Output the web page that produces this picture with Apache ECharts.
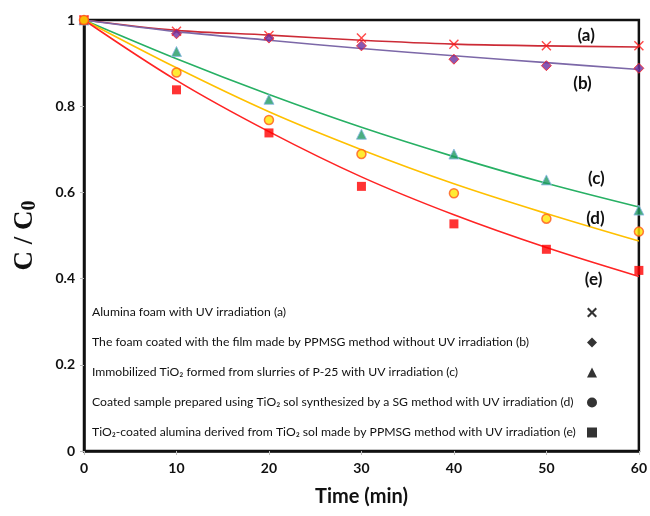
<!DOCTYPE html>
<html><head><meta charset="utf-8">
<script src="https://cdn.jsdelivr.net/npm/echarts@6/dist/echarts.min.js"></script>
<style>html,body{margin:0;padding:0;background:#fff}#c{width:650px;height:516px}</style>
</head><body><div id="c"></div>
<script>
const times = [0, 10, 20, 30, 40, 50, 60];
const xTicks = [0, 10, 20, 30, 40, 50, 60];
const yTicks = [0, 0.2, 0.4, 0.6, 0.8, 1];

// measured points
const ptsA = [1, 0.974, 0.964, 0.958, 0.944, 0.940, 0.940];
const ptsB = [1, 0.968, 0.958, 0.940, 0.909, 0.894, 0.888];
const ptsC = [1, 0.927, 0.816, 0.735, 0.689, 0.629, 0.559];
const ptsD = [1, 0.878, 0.768, 0.689, 0.598, 0.539, 0.509];
const ptsE = [1, 0.838, 0.738, 0.614, 0.527, 0.468, 0.419];

// fitted curves
const fitA = [1, 0.976, 0.965, 0.953, 0.944, 0.940, 0.9375];
const fitB = [1, 0.973, 0.953, 0.934, 0.917, 0.901, 0.885];
const fitC = [1, 0.910, 0.827, 0.751, 0.683, 0.621, 0.566];
const fitD = [1, 0.889, 0.787, 0.699, 0.620, 0.551, 0.487];
const fitE = [1, 0.860, 0.741, 0.636, 0.548, 0.472, 0.405];

const names = [
  'Alumina foam with UV irradiation (a)',
  'The foam coated with the film made by PPMSG method without UV irradiation (b)',
  'Immobilized TiO\u2082 formed from slurries of P-25 with UV irradiation (c)',
  'Coated sample prepared using TiO\u2082 sol synthesized by a SG method with UV irradiation (d)',
  'TiO\u2082-coated alumina derived from TiO\u2082 sol made by PPMSG method with UV irradiation (e)'
];
const curveLabels = ['(a)', '(b)', '(c)', '(d)', '(e)'];

const xPath = 'path://M1,0 L5,4 L9,0 L10,1 L6,5 L10,9 L9,10 L5,6 L1,10 L0,9 L4,5 L0,1 Z';
const xPathBold = 'path://M1.5,0 L5,3.5 L8.5,0 L10,1.5 L6.5,5 L10,8.5 L8.5,10 L5,6.5 L1.5,10 L0,8.5 L3.5,5 L0,1.5 Z';
const pair = arr => arr.map((v, i) => [times[i], v]);

const lineColors = ['#cc2b36', '#7c68a8', '#27b064', '#ffc000', '#ff2424'];
const fits = [fitA, fitB, fitC, fitD, fitE];
const pts = [ptsA, ptsB, ptsC, ptsD, ptsE];
const symbols = [xPath, 'diamond', 'triangle', 'circle', 'rect'];
const legendIcons = [xPathBold, 'diamond', 'triangle', 'circle', 'rect'];
const symSizes = [10, 10, 10, 9, 9];
const symStyles = [
  {color: '#ff1a1a'},
  {color: '#6a2fa0', borderColor: '#ff2020', borderWidth: 1},
  {color: '#1e9a62', borderColor: '#8ab8e6', borderWidth: 1},
  {color: '#ffe600', borderColor: '#ff5a1a', borderWidth: 1.5},
  {color: '#ff0000'}
];
const labelPos = [[54.3, 0.963], [53.9, 0.852], [55.4, 0.633], [55.3, 0.539], [55.1, 0.398]];

const series = [];
for (let i = 0; i < 5; i++) {
  series.push({
    name: 'fit' + i, type: 'line', data: pair(fits[i]), smooth: 0.35,
    showSymbol: false, symbol: 'none', z: 2,
    lineStyle: {color: lineColors[i], width: 1.6},
    markPoint: {
      symbol: 'circle', symbolSize: 1, itemStyle: {color: 'rgba(0,0,0,0)'},
      label: {show: true, position: 'inside', formatter: curveLabels[i], color: '#111',
              fontFamily: 'Lato', fontWeight: 'bold', fontSize: 17},
      data: [{coord: labelPos[i]}]
    }
  });
}
const order = [0, 1, 2, 4, 3];
order.forEach(i => {
  series.push({
    name: names[i], type: 'scatter', data: pair(pts[i]), z: 5,
    symbol: symbols[i], symbolSize: symSizes[i], itemStyle: symStyles[i]
  });
});

const chart = echarts.init(document.getElementById('c'));
chart.setOption({
  animation: false,
  grid: {left: 84, right: 10, top: 20, bottom: 65, show: true, borderColor: '#111', borderWidth: 2.5},
  xAxis: {
    type: 'value', min: 0, max: 60, interval: 10,
    name: 'Time (min)', nameLocation: 'middle', nameGap: 36,
    nameTextStyle: {fontFamily: 'Lato', fontWeight: 'bold', fontSize: 20, color: '#111'},
    axisLine: {show: true, lineStyle: {color: '#111', width: 2.5}},
    axisTick: {show: true, length: 4, lineStyle: {color: '#bbb'}},
    axisLabel: {fontFamily: 'Lato', fontWeight: 'bold', fontSize: 14, color: '#111', margin: 10,
                formatter: v => xTicks.includes(v) ? String(v) : ''},
    splitLine: {show: false}
  },
  yAxis: {
    type: 'value', min: 0, max: 1, interval: 0.2,
    name: '{a|C / C}{b|0}', nameLocation: 'middle', nameGap: 44, nameRotate: 90,
    nameTextStyle: {rich: {
      a: {fontFamily: 'Liberation Serif', fontWeight: 'bold', fontSize: 27, color: '#111'},
      b: {fontFamily: 'Liberation Serif', fontWeight: 'bold', fontSize: 20, color: '#111', padding: [10, 0, 0, 0]}
    }},
    axisLine: {show: true, lineStyle: {color: '#111', width: 2.5}},
    axisTick: {show: true, length: 4, lineStyle: {color: '#bbb'}},
    axisLabel: {fontFamily: 'Lato', fontWeight: 'bold', fontSize: 14, color: '#111', margin: 9,
                formatter: v => { const t = yTicks.find(k => Math.abs(k - v) < 1e-6); return t === undefined ? '' : String(+t.toFixed(1)); }},
    splitLine: {show: false}
  },
  legend: {
    orient: 'vertical', left: 92, top: 305, align: 'right', padding: 0,
    itemWidth: 10, itemHeight: 10, itemGap: 15,
    selectedMode: false,
    formatter: n => '{t|' + n + '}',
    textStyle: {rich: {t: {width: 490, height: 15, lineHeight: 15, align: 'left', fontFamily: 'Lato', fontSize: 12.2, color: '#111'}}},
    data: names.map((n, i) => ({name: n, icon: legendIcons[i],
      itemStyle: {color: '#000', borderWidth: 0}}))
  },
  series: series
});
</script></body></html>
